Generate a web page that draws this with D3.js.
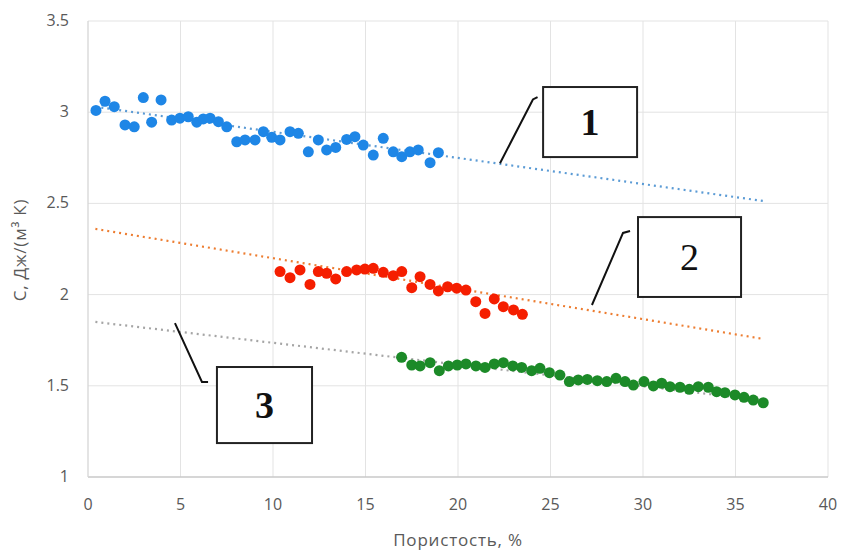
<!DOCTYPE html>
<html>
<head>
<meta charset="utf-8">
<script src="https://cdn.jsdelivr.net/npm/d3@7"></script>
<style>
  html, body { margin: 0; padding: 0; background: #fff; }
  svg { display: block; }
  .tick-label { font-family: "Open Sans", "Noto Sans", sans-serif; font-size: 16px; fill: #595959; }
  .axis-title { font-family: "Open Sans", "Noto Sans", sans-serif; font-size: 17px; letter-spacing: 0.8px; fill: #595959; }
  .callout-text { font-family: "Liberation Serif", "DejaVu Serif", serif; font-size: 38px; fill: #111; }
</style>
</head>
<body>
<svg width="841" height="551"></svg>
<script>
// === Data

const X_TICKS = [0, 5, 10, 15, 20, 25, 30, 35, 40];
const Y_TICKS = [1, 1.5, 2, 2.5, 3, 3.5];

// series 1 (blue)
const S1_X = [0.43, 0.92, 1.42, 2.0, 2.5, 2.99, 3.44, 3.95, 4.52, 4.97, 5.42, 5.88, 6.23, 6.6, 7.05, 7.5,
  8.04, 8.49, 9.03, 9.48, 9.93, 10.38, 10.92, 11.37, 11.91, 12.45, 12.9, 13.39, 13.98, 14.43, 14.88,
  15.42, 15.96, 16.5, 16.96, 17.4, 17.85, 18.49, 18.94];
const S1_Y = [3.01, 3.06, 3.03, 2.93, 2.92, 3.08, 2.945, 3.067, 2.957, 2.967, 2.975, 2.945, 2.963, 2.967, 2.948, 2.92,
  2.838, 2.848, 2.848, 2.893, 2.862, 2.848, 2.893, 2.884, 2.783, 2.848, 2.793, 2.807, 2.851, 2.866, 2.82,
  2.765, 2.857, 2.783, 2.756, 2.783, 2.793, 2.723, 2.778];

// series 2 (red)
const S2_X = [10.38, 10.92, 11.46, 12.0, 12.45, 12.9, 13.39, 13.98, 14.52, 14.97, 15.42, 15.96, 16.5, 16.96,
  17.5, 17.95, 18.49, 18.94, 19.44, 19.93, 20.43, 20.96, 21.46, 21.96, 22.45, 23.0, 23.48];
const S2_Y = [2.126, 2.093, 2.135, 2.056, 2.126, 2.117, 2.086, 2.126, 2.135, 2.14, 2.144, 2.122, 2.104, 2.126,
  2.038, 2.098, 2.056, 2.02, 2.043, 2.035, 2.025, 1.961, 1.897, 1.976, 1.934, 1.916, 1.892];

// series 3 (green)
const S3_X = [16.95, 17.5, 17.95, 18.49, 18.99, 19.48, 19.96, 20.43, 20.97, 21.46, 21.96, 22.45, 22.96, 23.44,
  23.98, 24.43, 24.94, 25.51, 26.02, 26.5, 26.99, 27.53, 28.04, 28.54, 29.03, 29.48, 30.05, 30.56, 31.01,
  31.46, 32.0, 32.5, 32.99, 33.53, 33.98, 34.43, 34.97, 35.46, 35.96, 36.5];
const S3_Y = [1.656, 1.614, 1.609, 1.627, 1.583, 1.609, 1.614, 1.62, 1.609, 1.601, 1.62, 1.627, 1.609, 1.601,
  1.583, 1.596, 1.572, 1.559, 1.523, 1.532, 1.535, 1.528, 1.523, 1.541, 1.523, 1.504, 1.523, 1.499, 1.514,
  1.495, 1.492, 1.481, 1.495, 1.492, 1.468, 1.462, 1.45, 1.437, 1.422, 1.407];

// linear trendlines (with forecast), end points
const TREND_X = [0.4, 36.5];
const TREND1_Y = [3.03, 2.513];
const TREND2_Y = [2.36, 1.757];
const TREND3_Y = [1.85, 1.42];

const CALLOUT_LABELS = ['1', '2', '3'];


// === Config

const MARGIN = { left: 88, top: 21, right: 13, bottom: 74 };
const X_DOMAIN = [0, 40];
const Y_DOMAIN = [1, 3.5];
const SERIES_STYLE = [
  { dot: '#1e86e6', trend: '#5b9bd5' },
  { dot: '#f51e00', trend: '#ed7d31' },
  { dot: '#1c8a28', trend: '#a5a5a5' }
];
const DOT_RADIUS = 5.5;

// callout boxes and leader lines, in data units
const CALLOUTS = [
  { box: [24.6, 3.138, 29.68, 2.754], leader: [[22.27, 2.72], [24.05, 3.07], [24.3, 3.083]], bold: true },
  { box: [29.73, 2.425, 35.3, 1.987], leader: [[27.24, 1.943], [28.92, 2.338], [29.3, 2.349]], bold: false },
  { box: [6.97, 1.603, 12.11, 1.186], leader: [[4.7, 1.844], [6.16, 1.521], [6.49, 1.521]], bold: true }
];


// === Main

function main() {
  const svg = d3.select('svg');
  const width = +svg.attr('width');
  const height = +svg.attr('height');
  const innerW = width - MARGIN.left - MARGIN.right;
  const innerH = height - MARGIN.top - MARGIN.bottom;

  svg.append('rect').attr('width', width).attr('height', height).attr('fill', '#fff');

  const x = d3.scaleLinear().domain(X_DOMAIN).range([0, innerW]);
  const y = d3.scaleLinear().domain(Y_DOMAIN).range([innerH, 0]);

  const g = svg.append('g').attr('transform', `translate(${MARGIN.left},${MARGIN.top})`);

  // grid
  g.append('g').selectAll('line.vgrid')
    .data(X_TICKS.slice(1))
    .enter().append('line')
    .attr('x1', d => x(d)).attr('x2', d => x(d))
    .attr('y1', 0).attr('y2', innerH)
    .attr('stroke', '#e3e3e3').attr('stroke-width', 1);
  g.append('g').selectAll('line.hgrid')
    .data(Y_TICKS.slice(1))
    .enter().append('line')
    .attr('x1', 0).attr('x2', innerW)
    .attr('y1', d => y(d)).attr('y2', d => y(d))
    .attr('stroke', '#e3e3e3').attr('stroke-width', 1);

  // axes lines
  g.append('line').attr('x1', 0).attr('x2', innerW).attr('y1', innerH).attr('y2', innerH)
    .attr('stroke', '#c8c8c8').attr('stroke-width', 1.3);
  g.append('line').attr('x1', 0).attr('x2', 0).attr('y1', 0).attr('y2', innerH)
    .attr('stroke', '#d6d6d6').attr('stroke-width', 1.3);

  // tick labels
  g.append('g').selectAll('text')
    .data(X_TICKS)
    .enter().append('text')
    .attr('class', 'tick-label')
    .attr('x', d => x(d)).attr('y', innerH + 33)
    .attr('text-anchor', 'middle')
    .text(d => d);
  g.append('g').selectAll('text')
    .data(Y_TICKS)
    .enter().append('text')
    .attr('class', 'tick-label')
    .attr('x', -19).attr('y', d => y(d) + 5)
    .attr('text-anchor', 'end')
    .text(d => d);

  // axis titles
  svg.append('text').attr('class', 'axis-title')
    .attr('x', 458).attr('y', 546)
    .attr('text-anchor', 'middle')
    .text('Пористость, %');
  svg.append('text').attr('class', 'axis-title')
    .attr('transform', 'translate(26,250) rotate(-90)')
    .attr('text-anchor', 'middle')
    .text('С, Дж/(м³ К)');

  const series = [[S1_X, S1_Y], [S2_X, S2_Y], [S3_X, S3_Y]];
  const trends = [TREND1_Y, TREND2_Y, TREND3_Y];

  // trendlines (dotted)
  trends.forEach(function(t, i) {
    g.append('line')
      .attr('x1', x(TREND_X[0])).attr('y1', y(t[0]))
      .attr('x2', x(TREND_X[1])).attr('y2', y(t[1]))
      .attr('stroke', SERIES_STYLE[i].trend)
      .attr('stroke-width', 2.2)
      .attr('stroke-dasharray', '2,4');
  });

  // points
  series.forEach(function(s, i) {
    g.append('g').selectAll('circle')
      .data(d3.range(s[0].length))
      .enter().append('circle')
      .attr('cx', k => x(s[0][k]))
      .attr('cy', k => y(s[1][k]))
      .attr('r', DOT_RADIUS)
      .attr('fill', SERIES_STYLE[i].dot);
  });

  // callouts
  const line = d3.line().x(d => x(d[0])).y(d => y(d[1]));
  CALLOUTS.forEach(function(c, i) {
    g.append('path')
      .attr('d', line(c.leader))
      .attr('fill', 'none').attr('stroke', '#111').attr('stroke-width', 2);
    const bx = x(c.box[0]), by = y(c.box[1]);
    const bw = x(c.box[2]) - bx, bh = y(c.box[3]) - by;
    g.append('rect')
      .attr('x', bx).attr('y', by).attr('width', bw).attr('height', bh)
      .attr('fill', '#fff').attr('stroke', '#222').attr('stroke-width', 2);
    g.append('text').attr('class', 'callout-text')
      .attr('x', bx + bw / 2).attr('y', by + bh / 2 + 13)
      .attr('text-anchor', 'middle')
      .attr('font-weight', c.bold ? 'bold' : 'normal')
      .text(CALLOUT_LABELS[i]);
  });
}

main();
</script>
</body>
</html>
